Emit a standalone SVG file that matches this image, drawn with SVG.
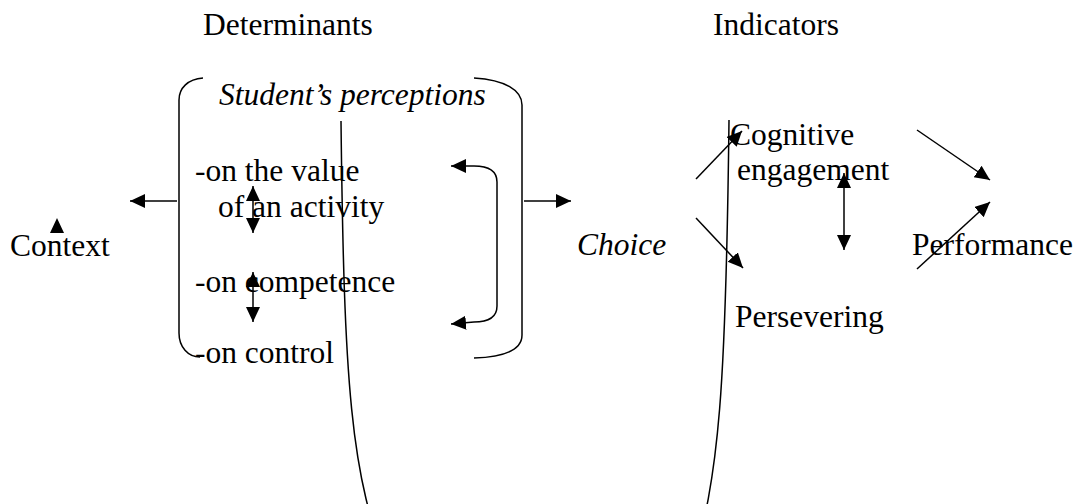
<svg xmlns="http://www.w3.org/2000/svg" width="1077" height="504" viewBox="0 0 1077 504">
<style>
text{font-family:"Liberation Serif","Times New Roman",serif;font-size:31.5px;fill:#000}
.it{font-style:italic}
.ln{fill:none;stroke:#000;stroke-width:1.5}
.ar{marker-end:url(#ah)}
.dar{marker-start:url(#ahs);marker-end:url(#ah)}
</style>
<defs>
<marker id="ah" markerUnits="userSpaceOnUse" markerWidth="16" markerHeight="16" refX="15" refY="7" orient="auto"><path d="M0,0 L15,7 L0,14 z" fill="#000"/></marker>
<marker id="ahs" markerUnits="userSpaceOnUse" markerWidth="16" markerHeight="16" refX="0" refY="7" orient="auto"><path d="M15,0 L0,7 L15,14 z" fill="#000"/></marker>
</defs>
<rect width="1077" height="504" fill="#fff"/>
<g id="headings">
<text x="203" y="35">Determinants</text>
<text x="713" y="35">Indicators</text>
</g>
<g id="perceptions">
<text class="it" x="219" y="105">Student’s perceptions</text>
<path class="ln" d="M203,78 C188,79 179,88 179,100 L179,333 C179,347 188,357 200,357"/>
<path class="ln" d="M474,78 C505,80 522,90 522,105 L522,335 C522,350 505,357 474,358"/>
</g>
<g id="value"><text x="195" y="181">-on the value</text><text x="218" y="217">of an activity</text></g>
<g id="competence"><text x="195" y="292">-on competence</text></g>
<g id="control"><text x="195" y="363">-on control</text></g>
<g id="context"><text x="10" y="256">Context</text><polygon points="57,218 64,233 50,233"/></g>
<g id="choice"><text class="it" x="577" y="255">Choice</text></g>
<g id="cognitive"><text x="730" y="145">Cognitive</text><text x="737" y="180">engagement</text></g>
<g id="persevering"><text x="735" y="327">Persevering</text></g>
<g id="performance"><text x="912" y="255">Performance</text></g>
<g id="connectors">
<line class="ln ar" x1="177" y1="201" x2="130" y2="201"/>
<line class="ln ar" x1="524" y1="201" x2="571" y2="201"/>
<line class="ln dar" x1="253" y1="186" x2="253" y2="233"/>
<line class="ln dar" x1="253" y1="272" x2="253" y2="322"/>
<path class="ln ar" d="M474,166 C490,166 497,172 497,182 L497,306 C497,316 490,322 474,322 L451,324"/>
<path class="ln" d="M474,166 L451,166" marker-end="url(#ah)"/>
<path class="ln" d="M341,121 C344,380 350,480 390,570 L690,570 C720,480 726,380 729,120"/>
<line class="ln ar" x1="696" y1="179" x2="742" y2="131"/>
<line class="ln ar" x1="696" y1="218" x2="743" y2="268"/>
<line class="ln dar" x1="844" y1="173" x2="844" y2="250"/>
<line class="ln ar" x1="917" y1="130" x2="990" y2="180"/>
<line class="ln ar" x1="917" y1="269" x2="990" y2="202"/>
</g>
</svg>
